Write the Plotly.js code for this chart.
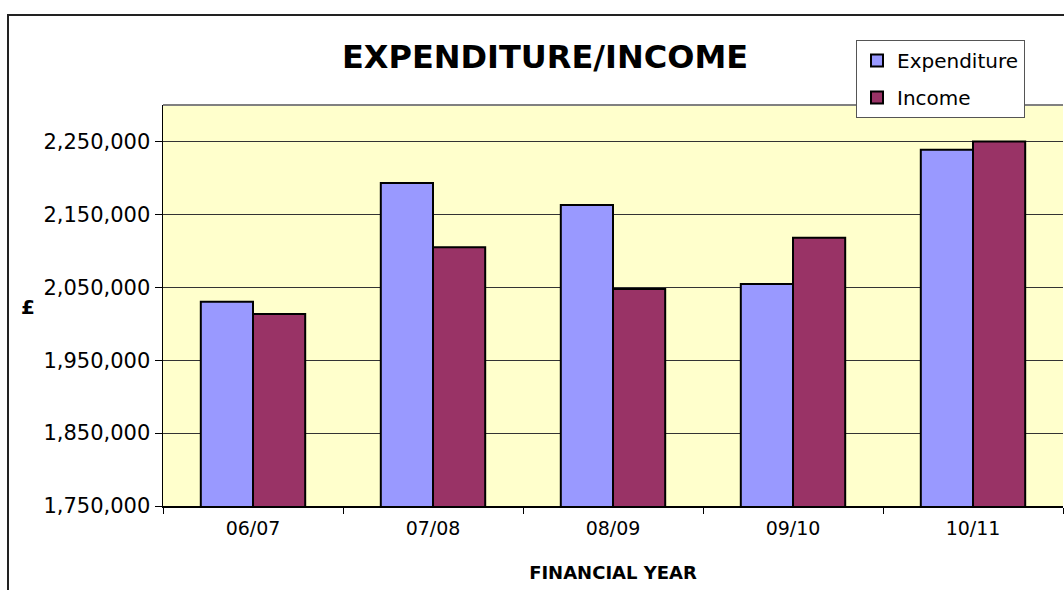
<!DOCTYPE html>
<html>
<head>
<meta charset="utf-8">
<script src="https://cdn.plot.ly/plotly-3.0.1.min.js"></script>
<style>html,body{margin:0;padding:0;background:#fff;}#chart{width:1064px;height:590px;}</style>
</head>
<body>
<div id="chart"></div>
<script>
const years = ["06/07", "07/08", "08/09", "09/10", "10/11"];
const expenditure = [2030000, 2193000, 2163000, 2054500, 2238500];
const income = [2013500, 2105000, 2047500, 2118000, 2250000];
const yTickVals = [1750000, 1850000, 1950000, 2050000, 2150000, 2250000];
const yTickText = ["1,750,000", "1,850,000", "1,950,000", "2,050,000", "2,150,000", "2,250,000"];

const FONT = "DejaVu Sans, Liberation Sans, Arial, sans-serif";
const W = 1064, H = 590;
const L = 163, R = 1, T = 105, B = 84;
const pw = W - L - R, ph = H - T - B;
function px(x) { return (x - L) / pw; }
function py(y) { return (H - B - y) / ph; }

const traces = [
  {type: "bar", name: "Expenditure", x: years, y: expenditure, legendgroup: "a",
   marker: {color: "#9999FF", line: {color: "#000000", width: 2}}},
  {type: "bar", name: "Income", x: years, y: income, legendgroup: "b",
   marker: {color: "#993366", line: {color: "#000000", width: 2}}}
];

const layout = {
  width: W, height: H,
  margin: {l: L, r: R, t: T, b: B, pad: 0},
  paper_bgcolor: "#FFFFFF",
  plot_bgcolor: "#FFFFCC",
  font: {family: FONT, color: "#000000", size: 20},
  barmode: "group", bargap: 0.42, bargroupgap: 0,
  title: {text: "EXPENDITURE/INCOME", font: {family: FONT, size: 32, weight: "bold", color: "#000"},
          x: 545 / W, xref: "container", xanchor: "center", y: 1 - 57 / H, yref: "container", yanchor: "middle"},
  xaxis: {type: "category", tickson: "boundaries", ticks: "outside", ticklen: 6, tickcolor: "#000",
          showline: true, linecolor: "#000", linewidth: 1.5, showgrid: false,
          tickfont: {family: FONT, size: 19}, ticklabelstandoff: 5,
          title: {text: "FINANCIAL YEAR", font: {family: FONT, size: 18, weight: "bold"}, standoff: 28}},
  yaxis: {range: [1750000, 2300000], tickvals: yTickVals, ticktext: yTickText, ticks: "outside", ticklen: 7,
          tickcolor: "#000", showline: true, linecolor: "#000", linewidth: 1.5,
          showgrid: true, gridcolor: "#333333", gridwidth: 1, zeroline: false,
          tickfont: {family: FONT, size: 21}},
  legend: {x: px(856), y: py(40), xanchor: "left", yanchor: "top", bgcolor: "#FFFFFF",
           bordercolor: "#555555", borderwidth: 1, font: {family: FONT, size: 20},
           traceorder: "grouped", tracegroupgap: 8, itemwidth: 30},
  showlegend: true,
  annotations: [
    {text: "<b>£</b>", xref: "paper", yref: "paper", x: px(28), y: py(307), showarrow: false,
     xanchor: "center", yanchor: "middle", font: {family: FONT, size: 20}}
  ],
  shapes: [
    {type: "rect", xref: "paper", yref: "paper", x0: px(8), y0: py(15), x1: px(1080), y1: py(620),
     line: {color: "#222222", width: 2}, fillcolor: "rgba(0,0,0,0)", layer: "below"},
    {type: "line", xref: "paper", yref: "paper", x0: 0, y0: 1, x1: 1, y1: 1,
     line: {color: "#808080", width: 2}}
  ]
};

Plotly.newPlot("chart", traces, layout, {displayModeBar: false, staticPlot: true});
</script>
</body>
</html>
